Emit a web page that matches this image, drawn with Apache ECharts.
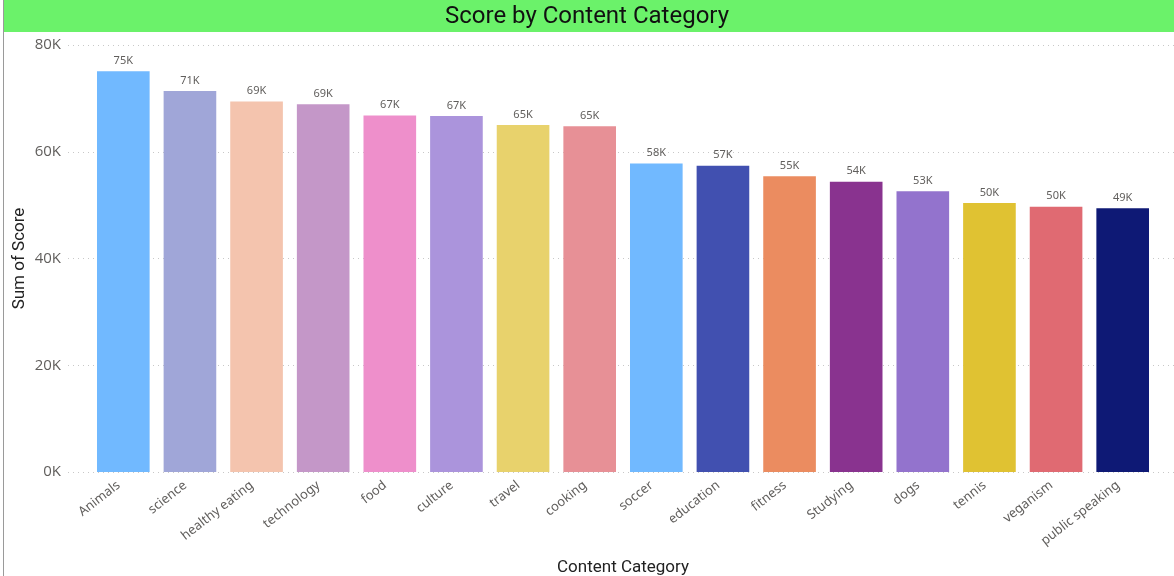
<!DOCTYPE html>
<html><head><meta charset="utf-8">
<script src="https://cdn.jsdelivr.net/npm/echarts@6/dist/echarts.min.js"></script>
<style>html,body{margin:0;padding:0;background:#fff}#c{width:1174px;height:576px}</style>
</head><body><div id="c"></div>
<script>
const categories = ['Animals','science','healthy eating','technology','food','culture','travel','cooking','soccer','education','fitness','Studying','dogs','tennis','veganism','public speaking'];
const scores = [75100, 71400, 69400, 68900, 66800, 66700, 65000, 64800, 57800, 57400, 55400, 54400, 52600, 50400, 49700, 49400];
const barColors = ['#71B9FF','#A0A6D8','#F4C4AE','#C497C8','#EE8FCB','#AB94DC','#E8D26C','#E79096','#71B9FF','#4150B0','#EB8C60','#89338F','#9373CD','#E0C232','#E06A72','#0E1975'];
const yMin = 0, yMax = 80000, yStep = 20000;
const titleText = 'Score by Content Category';
const xName = 'Content Category';
const yName = 'Sum of Score';

const chart = echarts.init(document.getElementById('c'), null, {renderer: 'canvas'});
const kfmt = v => Math.round(v / 1000) + 'K';
chart.setOption({
  animation: false,
  backgroundColor: '#fff',
  graphic: [
    {type: 'rect', shape: {x: 3, y: 0, width: 1171, height: 32}, style: {fill: '#6BF26A'}, z: -1},
    {type: 'line', shape: {x1: 3.5, y1: 0, x2: 3.5, y2: 576}, style: {stroke: '#9a9a9a', lineWidth: 1}}
  ],
  title: {
    text: titleText, left: 'center', top: 0,
    textStyle: {fontFamily: 'Roboto', fontSize: 24, fontWeight: 'normal', color: '#111'}
  },
  grid: [
    {left: 90, right: 18, top: 45, bottom: 104, containLabel: false, outerBoundsMode: 'none'},
    {left: 68, right: 0, top: 45, bottom: 104, containLabel: false, outerBoundsMode: 'none'}
  ],
  xAxis: [
    {
      type: 'category', gridIndex: 0, data: categories,
      axisLine: {show: false}, axisTick: {show: false},
      axisLabel: {rotate: 38, margin: 8, fontSize: 13, color: '#605E5C', fontFamily: 'Noto Sans', interval: 0, padding: [0, 6, 0, 0]},
      name: xName, nameLocation: 'middle', nameGap: 87, nameMoveOverlap: false,
      nameTextStyle: {fontFamily: 'Roboto', fontSize: 17, color: '#222'}
    },
    {type: 'value', gridIndex: 1, show: false, min: 0, max: 1}
  ],
  yAxis: [
    {type: 'value', gridIndex: 0, min: yMin, max: yMax, interval: yStep, show: false, splitLine: {show: false}},
    {
      type: 'value', gridIndex: 1, min: yMin, max: yMax, interval: yStep,
      axisLine: {show: false}, axisTick: {show: false},
      axisLabel: {formatter: kfmt, fontSize: 15, color: '#605E5C', fontFamily: 'Open Sans', margin: 7},
      splitLine: {show: true, lineStyle: {type: [1, 4], color: '#c8c8c8', width: 1}},
      name: yName, nameLocation: 'middle', nameGap: 40, nameRotate: 90, nameMoveOverlap: false,
      nameTextStyle: {fontFamily: 'Roboto', fontSize: 17, color: '#222'}
    }
  ],
  series: [{
    type: 'bar', xAxisIndex: 0, yAxisIndex: 0, barCategoryGap: '21%',
    data: scores.map((v, i) => ({value: v, itemStyle: {color: barColors[i]}})),
    label: {show: true, position: 'top', distance: 5, formatter: p => kfmt(p.value), fontSize: 11, color: '#605E5C', fontFamily: 'Noto Sans'}
  }]
});
</script></body></html>
